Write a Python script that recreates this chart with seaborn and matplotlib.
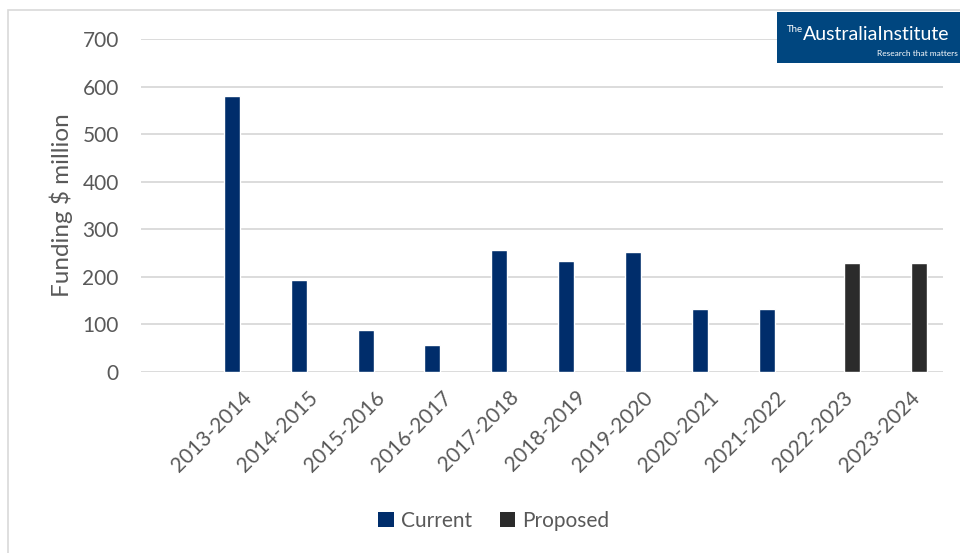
import matplotlib
matplotlib.use("Agg")
import matplotlib.pyplot as plt
from matplotlib.patches import Rectangle, Patch
import seaborn as sns
import pandas as pd

categories = ["2013-2014", "2014-2015", "2015-2016", "2016-2017", "2017-2018",
              "2018-2019", "2019-2020", "2020-2021", "2021-2022", "2022-2023", "2023-2024"]
current = [580, 193, 89, 56, 257, 234, 253, 133, 132, None, None]
proposed = [None, None, None, None, None, None, None, None, None, 230, 230]
series_names = ["Current", "Proposed"]
series_colors = ["#002d6b", "#2b2b2b"]
y_ticks = [0, 100, 200, 300, 400, 500, 600, 700]

rows = []
for c, v in zip(categories, current):
    if v is not None:
        rows.append({"Year": c, "Series": "Current", "Value": v})
for c, v in zip(categories, proposed):
    if v is not None:
        rows.append({"Year": c, "Series": "Proposed", "Value": v})
df = pd.DataFrame(rows)

sns.set_theme(style="white")
plt.rcParams["font.family"] = ["Lato", "DejaVu Sans"]

fig = plt.figure(figsize=(9.6, 5.53), dpi=100)
ax = fig.add_axes([141 / 960, 1 - 372 / 553, (943 - 141) / 960, (372 - 39) / 553])

sns.barplot(data=df, x="Year", y="Value", hue="Series", order=categories,
            hue_order=series_names, palette=series_colors, width=0.56, gap=0.14,
            dodge=True, ax=ax, legend=False, saturation=1, errorbar=None)

ax.set_xlim(-1.5, len(categories) - 0.5)
ax.set_ylim(0, 700)
ax.set_yticks(y_ticks)
ax.yaxis.grid(True, color="#d9d9d9", linewidth=1.3)
ax.set_axisbelow(True)
for s in ax.spines.values():
    s.set_visible(False)
ax.tick_params(axis="both", length=0, colors="#595959", labelsize=15)
ax.tick_params(axis="y", pad=16)
ax.tick_params(axis="x", pad=11)
for lab in ax.get_xticklabels():
    lab.set_rotation(45)
    lab.set_ha("right")
    lab.set_va("top")
    lab.set_rotation_mode("anchor")
ax.set_xlabel("")
ax.set_ylabel("Funding $ million", fontsize=17.5, color="#595959", labelpad=7)

handles = [Patch(facecolor=col, edgecolor="none") for col in series_colors]
fig.legend(handles, series_names, loc="center", bbox_to_anchor=(494 / 960, 1 - 521 / 553),
           ncol=2, frameon=False, fontsize=15, handlelength=0.75, handleheight=0.75,
           handletextpad=0.35, columnspacing=1.3, labelcolor="#595959")

# chart frame
fig.patches.append(Rectangle((8 / 960, -0.1), 1.2, 1 - 10 / 553 + 0.1, transform=fig.transFigure,
                             fill=False, edgecolor="#d9d9d9", linewidth=1.2, zorder=0))

# logo
fig.patches.append(Rectangle((777 / 960, 1 - 63 / 553), 190 / 960, 51 / 553,
                             transform=fig.transFigure, facecolor="#00467f",
                             edgecolor="none", zorder=5))
fig.text(787 / 960, 1 - 29 / 553, "The", color="white", fontsize=7, va="center",
         ha="left", zorder=6)
fig.text(803 / 960, 1 - 35 / 553, "AustraliaInstitute", color="white", fontsize=14,
         va="center", ha="left", zorder=6)
fig.text(958 / 960, 1 - 54 / 553, "Research that matters", color="white", fontsize=6,
         va="center", ha="right", zorder=6)

fig.savefig("out.png", dpi=100)
